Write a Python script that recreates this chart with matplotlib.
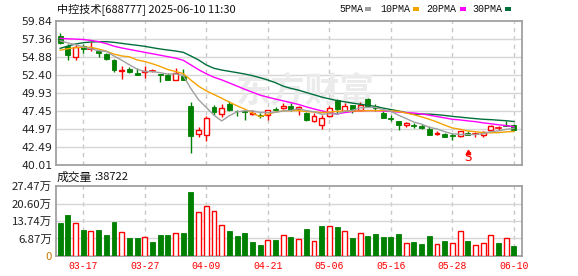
import matplotlib
matplotlib.use('Agg')
import matplotlib.pyplot as plt
from matplotlib.patches import Rectangle

# ---------------- data ----------------
dates = ['03-12','03-13','03-14','03-17','03-18','03-19','03-20','03-21','03-24','03-25',
         '03-26','03-27','03-28','03-31','04-01','04-02','04-03','04-07','04-08','04-09',
         '04-10','04-11','04-14','04-15','04-16','04-17','04-18','04-21','04-22','04-23',
         '04-24','04-25','04-28','04-29','04-30','05-06','05-07','05-08','05-09','05-12',
         '05-13','05-14','05-15','05-16','05-19','05-20','05-21','05-22','05-23','05-26',
         '05-27','05-28','05-29','05-30','06-03','06-04','06-05','06-06','06-09','06-10']

opens = [57.76, 56.38, 54.86, 56.38, 56.00, 55.69, 55.32, 54.53, 53.00, 53.20,
         52.64, 52.78, 52.92, 52.60, 52.46, 51.77, 52.32, 48.17, 44.30, 44.07,
         47.94, 47.02, 48.45, 47.48, 47.39, 47.02, 46.93, 46.84, 47.71, 47.85,
         48.08, 47.76, 47.16, 46.00, 45.45, 46.70, 48.91, 47.48, 48.22, 47.62,
         49.10, 48.08, 47.16, 46.47, 46.00, 45.55, 45.55, 45.32, 44.95, 44.20,
         44.25, 44.07, 43.93, 44.39, 44.23, 44.16, 44.85, 45.08, 45.40, 45.55]
highs = [58.22, 56.70, 56.61, 56.75, 56.93, 55.87, 55.46, 54.63, 53.61, 53.47,
         53.38, 53.61, 53.24, 52.60, 52.69, 53.38, 53.24, 48.63, 45.22, 46.70,
         48.22, 48.40, 48.77, 47.62, 47.39, 47.62, 47.16, 47.62, 47.94, 48.54,
         48.54, 48.17, 47.25, 47.16, 46.93, 48.08, 49.10, 48.54, 48.31, 48.63,
         49.23, 48.40, 47.39, 46.93, 46.10, 45.91, 45.78, 45.63, 45.32, 44.62,
         44.39, 44.39, 44.72, 44.62, 44.53, 44.72, 45.55, 45.40, 46.00, 45.60]
lows = [56.70, 54.53, 54.53, 55.50, 55.69, 54.95, 54.53, 52.78, 51.91, 52.69,
        52.46, 52.00, 52.83, 51.40, 51.75, 51.68, 51.68, 41.63, 43.80, 43.33,
        46.93, 46.56, 47.39, 46.79, 46.24, 46.84, 46.47, 46.24, 47.39, 47.71,
        47.39, 46.93, 46.10, 45.91, 44.95, 46.56, 47.02, 47.39, 47.16, 47.48,
        47.94, 47.48, 46.47, 46.00, 44.85, 45.18, 45.08, 44.95, 44.16, 44.16,
        43.80, 43.47, 43.88, 44.16, 43.84, 43.84, 44.62, 44.85, 45.32, 44.80]
closes = [56.79, 55.13, 56.24, 56.01, 56.05, 55.41, 54.67, 53.06, 53.10, 52.87,
          52.46, 52.93, 53.00, 52.46, 51.77, 52.69, 51.77, 43.93, 44.76, 46.47,
          47.30, 47.85, 47.57, 47.39, 47.25, 47.20, 46.74, 47.53, 47.57, 48.17,
          47.52, 47.94, 46.24, 46.79, 46.47, 47.85, 47.76, 48.08, 47.48, 48.22,
          48.08, 47.85, 46.47, 46.38, 45.45, 45.78, 45.40, 45.08, 44.16, 44.39,
          43.80, 43.98, 44.62, 44.16, 44.30, 44.48, 45.32, 45.13, 45.32, 44.85]

ma5 = [57.15, 56.85, 56.60, 56.30, 56.04, 55.77, 55.68, 55.04, 54.46, 53.82,
       53.23, 52.88, 52.87, 52.74, 52.52, 52.57, 52.34, 50.52, 48.98, 47.92,
       46.85, 46.06, 46.79, 47.32, 47.47, 47.45, 47.23, 47.22, 47.26, 47.44,
       47.51, 47.75, 47.49, 47.33, 46.99, 47.06, 47.02, 47.39, 47.53, 47.88,
       47.92, 47.94, 47.62, 47.40, 46.85, 46.39, 45.90, 45.62, 45.17, 44.96,
       44.57, 44.28, 44.19, 44.19, 44.17, 44.31, 44.58, 44.68, 44.91, 45.02]
ma10 = [55.85, 56.05, 56.20, 56.25, 56.25, 56.00, 55.70, 55.30, 55.05, 54.93,
        54.50, 54.28, 53.96, 53.60, 53.17, 52.90, 52.61, 51.70, 50.86, 50.22,
        49.71, 49.20, 48.66, 48.15, 47.70, 47.15, 46.65, 47.00, 47.29, 47.46,
        47.48, 47.49, 47.36, 47.30, 47.22, 47.29, 47.39, 47.44, 47.43, 47.44,
        47.49, 47.48, 47.51, 47.47, 47.37, 47.16, 46.92, 46.62, 46.29, 45.91,
        45.48, 45.09, 44.91, 44.68, 44.57, 44.44, 44.43, 44.44, 44.55, 44.60]
ma20 = [57.48, 57.42, 57.38, 57.32, 57.20, 57.02, 56.75, 56.40, 56.15, 55.95,
        55.75, 55.55, 55.35, 55.15, 54.95, 54.75, 54.45, 53.80, 53.15, 52.58,
        52.10, 51.74, 51.31, 50.88, 50.44, 50.03, 49.63, 49.35, 49.08, 48.84,
        48.59, 48.34, 48.01, 47.72, 47.46, 47.22, 47.02, 47.22, 47.36, 47.45,
        47.49, 47.49, 47.43, 47.38, 47.29, 47.22, 47.15, 47.03, 46.86, 46.67,
        46.48, 46.29, 46.20, 46.07, 45.96, 45.80, 45.67, 45.53, 45.42, 45.25]
ma30 = [56.10, 56.42, 56.70, 56.88, 56.98, 57.02, 57.02, 56.93, 56.79, 56.65,
        56.52, 56.38, 56.19, 56.01, 55.87, 55.73, 55.55, 55.04, 54.49, 53.80,
        53.34, 53.10, 52.92, 52.74, 52.55, 52.32, 52.04, 51.72, 51.35, 50.87,
        50.56, 50.32, 49.99, 49.68, 49.36, 49.11, 48.88, 48.71, 48.53, 48.37,
        48.23, 48.06, 47.84, 47.64, 47.43, 47.20, 46.98, 47.02, 47.00, 46.93,
        46.82, 46.69, 46.59, 46.48, 46.38, 46.29, 46.24, 46.16, 46.09, 45.98]

volume = [12.77, 15.94, 13.04, 10.27, 9.88, 10.27, 8.30, 13.43, 9.48, 7.11,
          7.11, 7.51, 5.53, 8.30, 8.30, 9.09, 8.82, 25.30, 17.40, 19.80,
          17.80, 12.20, 9.88, 7.90, 9.09, 5.53, 4.35, 6.32, 6.32, 8.30,
          7.50, 6.60, 10.67, 5.93, 11.85, 11.85, 11.46, 9.75, 7.11, 8.96,
          7.90, 8.69, 7.50, 7.50, 8.69, 5.14, 5.53, 4.74, 7.90, 4.74,
          5.93, 5.14, 9.75, 5.93, 4.35, 5.14, 8.30, 5.14, 6.98, 3.87]
vol_up = [0, 0, 1, 0, 1, 0, 0, 0, 1, 0, 0, 1, 0, 0, 0, 1, 0, 0, 1, 1,
          1, 1, 0, 0, 0, 0, 0, 1, 0, 1, 0, 1, 0, 1, 0, 1, 0, 1, 0, 1,
          0, 0, 0, 0, 0, 1, 0, 0, 0, 1, 0, 1, 1, 0, 1, 1, 1, 0, 1, 0]

price_ticks = [40.01, 42.49, 44.97, 47.45, 49.93, 52.40, 54.88, 57.36, 59.84]
vol_ticks = [0, 6.87, 13.74, 20.60, 27.47]
vol_tick_labels = ['0', '6.87万', '13.74万', '20.60万', '27.47万']
date_ticks = ['03-17', '03-27', '04-09', '04-21', '05-06', '05-16', '05-28', '06-10']
signal_date = '05-30'
signal_text = 'S'
title = '中控技术[688777] 2025-06-10 11:30'
vol_title = '成交量'
vol_last = ':38722'
ma_names = ['5PMA', '10PMA', '20PMA', '30PMA']
watermark = '东方财富'

# ---------------- style ----------------
RED = '#ff0000'
GREEN = '#008000'
MA_COLORS = ['#a0a0a0', '#f5a300', '#ff00ff', '#006f3c']
SPINE = '#a0a0a0'
HGRID = '#d6d6d6'
VGRID = '#c8c8c8'
CJK = ['Noto Sans CJK SC', 'DejaVu Sans']

W, H = 578, 276
fig = plt.figure(figsize=(W / 100, H / 100), dpi=100)


def px_axes(l, t, r, b):
    return fig.add_axes([l / W, 1 - b / H, (r - l) / W, (b - t) / H])


ax = px_axes(55.5, 21.3, 522, 164.7)
axv = px_axes(55.5, 186.3, 522, 255.8)

x = list(range(len(dates)))
tick_pos = [dates.index(d) for d in date_ticks]
XLIM = (-0.61, 60.05)

for a in (ax, axv):
    a.set_xlim(*XLIM)
    for s in a.spines.values():
        s.set_color(SPINE)
        s.set_linewidth(1.3)
    a.tick_params(length=0)
    for p in tick_pos:
        a.axvline(p, color=VGRID, lw=1, ls=(0, (3, 3)), zorder=0)

# price panel
ax.set_ylim(price_ticks[0], price_ticks[-1])
for t in price_ticks[1:-1]:
    ax.axhline(t, color=HGRID, lw=1, zorder=0)
ax.set_yticks(price_ticks)
ax.set_yticklabels(['%.2f' % t for t in price_ticks], fontsize=7.8,
                   color='#222222', family='DejaVu Sans')
ax.tick_params(axis='y', pad=2.2)
ax.set_xticks([])

# watermark (behind the candles)
ax.text(305 / W, 1 - 91 / H, watermark, transform=fig.transFigure, family=CJK,
        fontsize=25, fontweight='bold', color='#ebebeb', ha='center', va='center',
        zorder=0.5)

BW = 0.64
for i in x:
    o, h, l, c = opens[i], highs[i], lows[i], closes[i]
    lo_b, hi_b = min(o, c), max(o, c)
    if c >= o:
        ax.plot([i, i], [l, lo_b], color=RED, lw=1, zorder=3, solid_capstyle='butt')
        ax.plot([i, i], [hi_b, h], color=RED, lw=1, zorder=3, solid_capstyle='butt')
        if hi_b - lo_b < 0.08:
            ax.plot([i - BW / 2, i + BW / 2], [c, c], color=RED, lw=1.2, zorder=3)
        else:
            ax.add_patch(Rectangle((i - BW / 2, lo_b), BW, hi_b - lo_b,
                                   facecolor='white', edgecolor=RED, lw=1, zorder=4))
    else:
        ax.plot([i, i], [l, h], color=GREEN, lw=1, zorder=3, solid_capstyle='butt')
        if hi_b - lo_b < 0.08:
            ax.plot([i - BW / 2, i + BW / 2], [c, c], color=GREEN, lw=1.2, zorder=3)
        else:
            ax.add_patch(Rectangle((i - BW / 2, lo_b), BW, hi_b - lo_b,
                                   facecolor=GREEN, edgecolor=GREEN, lw=0.6, zorder=4))

for ma, col in zip([ma30, ma20, ma10, ma5], MA_COLORS[::-1]):
    ax.plot(x, ma, color=col, lw=1, zorder=5)

# signal marker
si = dates.index(signal_date)
ax.plot([si], [41.70], marker='^', color=RED, markersize=3.2, zorder=6)
ax.text(si, 40.05, signal_text, color=RED, fontsize=8.5, ha='center', va='bottom',
        family='DejaVu Sans', zorder=6)

# volume panel
axv.set_ylim(vol_ticks[0], vol_ticks[-1])
for t in vol_ticks[1:-1]:
    axv.axhline(t, color=HGRID, lw=1, zorder=0)
axv.set_yticks(vol_ticks)
axv.set_yticklabels(vol_tick_labels, fontsize=8.2, color='#222222', family=CJK)
axv.get_yticklabels()[0].set_color('#c87800')
axv.tick_params(axis='y', pad=2.5)
for i in x:
    if vol_up[i]:
        axv.add_patch(Rectangle((i - BW / 2, 0), BW, volume[i], facecolor='white',
                                edgecolor=RED, lw=1, zorder=3))
    else:
        axv.add_patch(Rectangle((i - BW / 2, 0), BW, volume[i], facecolor=GREEN,
                                edgecolor=GREEN, lw=0.6, zorder=3))
axv.set_xticks(tick_pos)
axv.set_xticklabels(date_ticks, fontsize=7, color=RED, family='Liberation Mono')
axv.tick_params(axis='x', pad=4)

# texts
fig.text(57 / W, 1 - 9.5 / H, title, family=CJK, fontsize=8, color='#111111',
         ha='left', va='center')
fig.text(57 / W, 1 - 177 / H, vol_title, family=CJK, fontsize=8.5, color='#111111',
         ha='left', va='center')
fig.text(94 / W, 1 - 177 / H, vol_last, family=CJK, fontsize=8, color='#111111',
         ha='left', va='center')

# legend
leg_x = [339, 380, 426, 472]
box_x = [365, 413, 460, 505]
for name, lx, bx, col in zip(ma_names, leg_x, box_x, MA_COLORS):
    fig.text(lx / W, 1 - 8.8 / H, name, family='Liberation Mono', fontsize=7.2,
             color='#111111', ha='left', va='center')
    fig.patches.append(Rectangle((bx / W, 1 - 10.5 / H), 5.5 / W, 3.2 / H,
                                 transform=fig.transFigure, facecolor=col,
                                 edgecolor='none'))

fig.savefig('out.png', dpi=100)
